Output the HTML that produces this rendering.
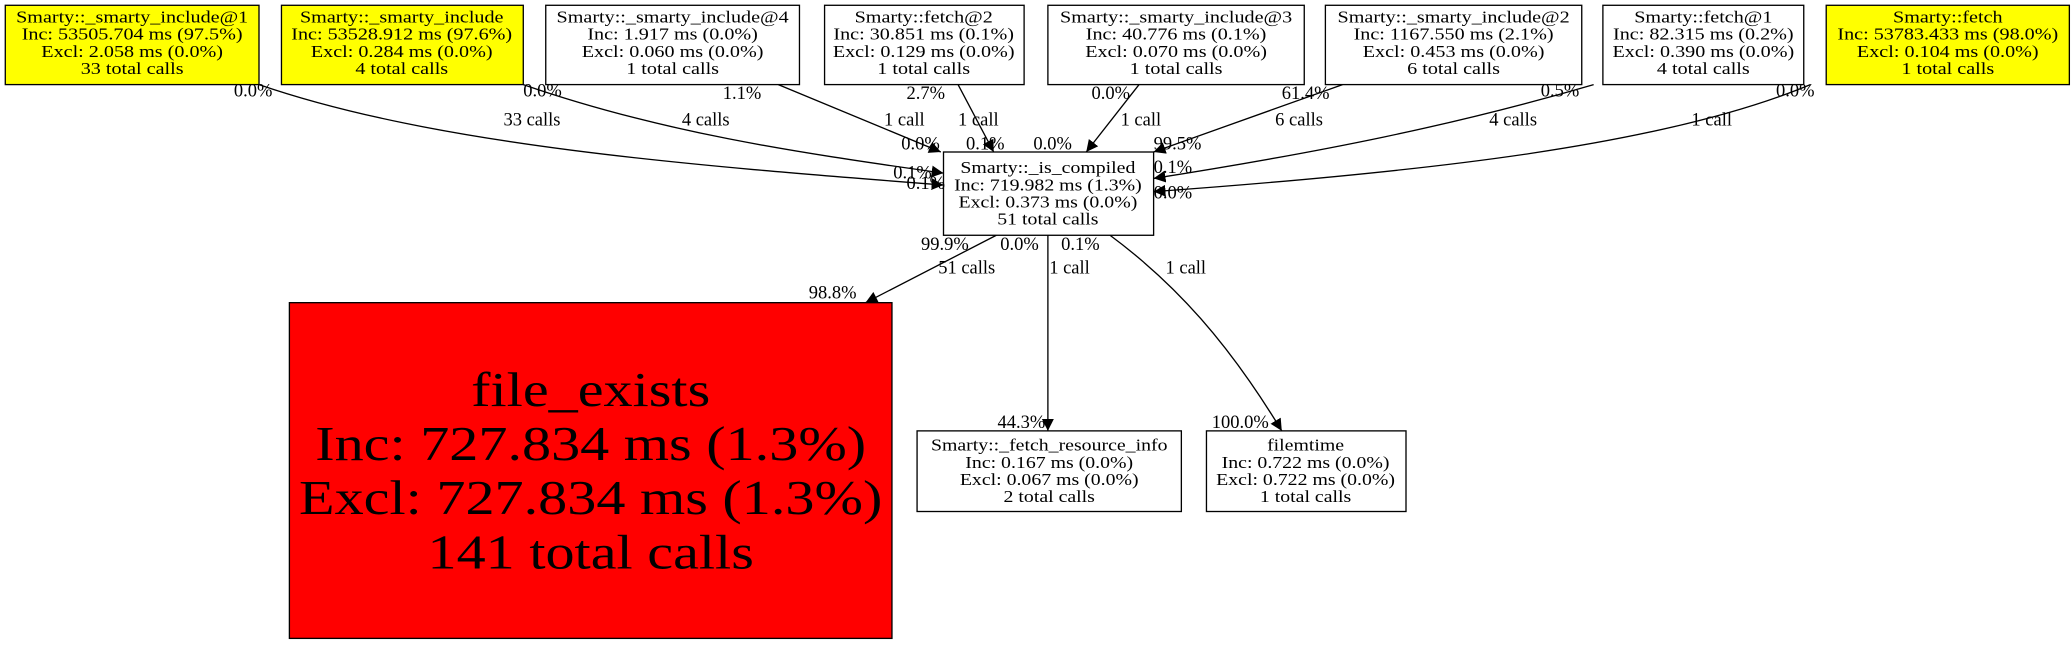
<!DOCTYPE html>
<html><head><meta charset="utf-8"><style>
html,body{margin:0;padding:0;background:#fff;}
svg{display:block;}
text{font-family:"Liberation Serif","DejaVu Serif",serif;}
</style></head><body>
<svg width="2072" height="645" viewBox="0 0 1568 488" preserveAspectRatio="none" xmlns="http://www.w3.org/2000/svg">
<defs><marker id="a" viewBox="0 0 10 10" refX="10" refY="5" markerWidth="9" markerHeight="9" markerUnits="userSpaceOnUse" orient="auto"><path d="M0,0L10,5L0,10z" fill="#000"/></marker></defs>
<g fill="none" stroke="#000" stroke-width="1" marker-end="url(#a)">
<path d="M196,64 C330,110 520,125 714,140"/>
<path d="M396,64 C500,100 600,115 714,131"/>
<path d="M589,64 L712,115"/>
<path d="M725,64 L752,115"/>
<path d="M862,64 L822,115"/>
<path d="M1016,64 L873,115"/>
<path d="M1206,64 C1100,95 1000,115 873,135"/>
<path d="M1370,64 C1260,110 1080,130 873,145"/>
<path d="M754,178 L655,229"/>
<path d="M793,178 L793,326"/>
<path d="M840,178 C890,215 930,260 970,326"/>
</g>
<g stroke="#000" stroke-width="1">
<rect x="4" y="4" width="192" height="60" fill="#ff0"/>
<rect x="213" y="4" width="183" height="60" fill="#ff0"/>
<rect x="413" y="4" width="192" height="60" fill="#fff"/>
<rect x="624" y="4" width="151" height="60" fill="#fff"/>
<rect x="793" y="4" width="194" height="60" fill="#fff"/>
<rect x="1003" y="4" width="194" height="60" fill="#fff"/>
<rect x="1213" y="4" width="152" height="60" fill="#fff"/>
<rect x="1382" y="4" width="184" height="60" fill="#ff0"/>
<rect x="714" y="115" width="159" height="63" fill="#fff"/>
<rect x="219" y="229" width="456" height="254" fill="#f00"/>
<rect x="694" y="326" width="200" height="61" fill="#fff"/>
<rect x="913" y="326" width="151" height="61" fill="#fff"/>
</g>
<g font-size="12.5" text-anchor="middle" fill="#000">
<g transform="translate(100 0) scale(1.22 1)"><text x="0" y="17">Smarty::_smarty_include@1</text><text x="0" y="30">Inc: 53505.704 ms (97.5%)</text><text x="0" y="43">Excl: 2.058 ms (0.0%)</text><text x="0" y="56">33 total calls</text></g>
<g transform="translate(304 0) scale(1.22 1)"><text x="0" y="17">Smarty::_smarty_include</text><text x="0" y="30">Inc: 53528.912 ms (97.6%)</text><text x="0" y="43">Excl: 0.284 ms (0.0%)</text><text x="0" y="56">4 total calls</text></g>
<g transform="translate(509 0) scale(1.22 1)"><text x="0" y="17">Smarty::_smarty_include@4</text><text x="0" y="30">Inc: 1.917 ms (0.0%)</text><text x="0" y="43">Excl: 0.060 ms (0.0%)</text><text x="0" y="56">1 total calls</text></g>
<g transform="translate(699 0) scale(1.22 1)"><text x="0" y="17">Smarty::fetch@2</text><text x="0" y="30">Inc: 30.851 ms (0.1%)</text><text x="0" y="43">Excl: 0.129 ms (0.0%)</text><text x="0" y="56">1 total calls</text></g>
<g transform="translate(890 0) scale(1.22 1)"><text x="0" y="17">Smarty::_smarty_include@3</text><text x="0" y="30">Inc: 40.776 ms (0.1%)</text><text x="0" y="43">Excl: 0.070 ms (0.0%)</text><text x="0" y="56">1 total calls</text></g>
<g transform="translate(1100 0) scale(1.22 1)"><text x="0" y="17">Smarty::_smarty_include@2</text><text x="0" y="30">Inc: 1167.550 ms (2.1%)</text><text x="0" y="43">Excl: 0.453 ms (0.0%)</text><text x="0" y="56">6 total calls</text></g>
<g transform="translate(1289 0) scale(1.22 1)"><text x="0" y="17">Smarty::fetch@1</text><text x="0" y="30">Inc: 82.315 ms (0.2%)</text><text x="0" y="43">Excl: 0.390 ms (0.0%)</text><text x="0" y="56">4 total calls</text></g>
<g transform="translate(1474 0) scale(1.22 1)"><text x="0" y="17">Smarty::fetch</text><text x="0" y="30">Inc: 53783.433 ms (98.0%)</text><text x="0" y="43">Excl: 0.104 ms (0.0%)</text><text x="0" y="56">1 total calls</text></g>
<g transform="translate(793 0) scale(1.2 1)"><text x="0" y="131">Smarty::_is_compiled</text><text x="0" y="144">Inc: 719.982 ms (1.3%)</text><text x="0" y="157">Excl: 0.373 ms (0.0%)</text><text x="0" y="170">51 total calls</text></g>
<g transform="translate(794 0) scale(1.2 1)"><text x="0" y="341">Smarty::_fetch_resource_info</text><text x="0" y="354">Inc: 0.167 ms (0.0%)</text><text x="0" y="367">Excl: 0.067 ms (0.0%)</text><text x="0" y="380">2 total calls</text></g>
<g transform="translate(988 0) scale(1.2 1)"><text x="0" y="341">filemtime</text><text x="0" y="354">Inc: 0.722 ms (0.0%)</text><text x="0" y="367">Excl: 0.722 ms (0.0%)</text><text x="0" y="380">1 total calls</text></g>
</g>
<g font-size="37" text-anchor="middle" fill="#000" transform="translate(447 0) scale(1.19 1)">
<text x="0" y="307">file_exists</text><text x="0" y="348">Inc: 727.834 ms (1.3%)</text><text x="0" y="389">Excl: 727.834 ms (1.3%)</text><text x="0" y="430">141 total calls</text>
</g>
<g font-size="14" fill="#000">
<text x="177" y="73">0.0%</text>
<text x="381" y="95">33 calls</text>
<text x="676" y="135">0.1%</text><text x="686" y="143">0.1%</text>
<text x="396" y="73">0.0%</text>
<text x="516" y="95">4 calls</text>
<text x="547" y="75">1.1%</text>
<text x="669" y="95">1 call</text>
<text x="682" y="113">0.0%</text>
<text x="686" y="75">2.7%</text>
<text x="725" y="95">1 call</text>
<text x="731" y="113">0.1%</text>
<text x="826" y="75">0.0%</text>
<text x="848" y="95">1 call</text>
<text x="782" y="113">0.0%</text>
<text x="970" y="75">61.4%</text>
<text x="965" y="95">6 calls</text>
<text x="873" y="113">99.5%</text>
<text x="1166" y="73">0.5%</text>
<text x="1127" y="95">4 calls</text>
<text x="873" y="131">0.1%</text>
<text x="1344" y="73">0.0%</text>
<text x="1280" y="95">1 call</text>
<text x="873" y="150">0.0%</text>
<text x="697" y="189">99.9%</text>
<text x="710" y="207">51 calls</text>
<text x="612" y="226">98.8%</text>
<text x="757" y="189">0.0%</text>
<text x="794" y="207">1 call</text>
<text x="791" y="324" text-anchor="end">44.3%</text>
<text x="803" y="189">0.1%</text>
<text x="882" y="207">1 call</text>
<text x="917" y="324">100.0%</text>
</g>
</svg>
</body></html>
